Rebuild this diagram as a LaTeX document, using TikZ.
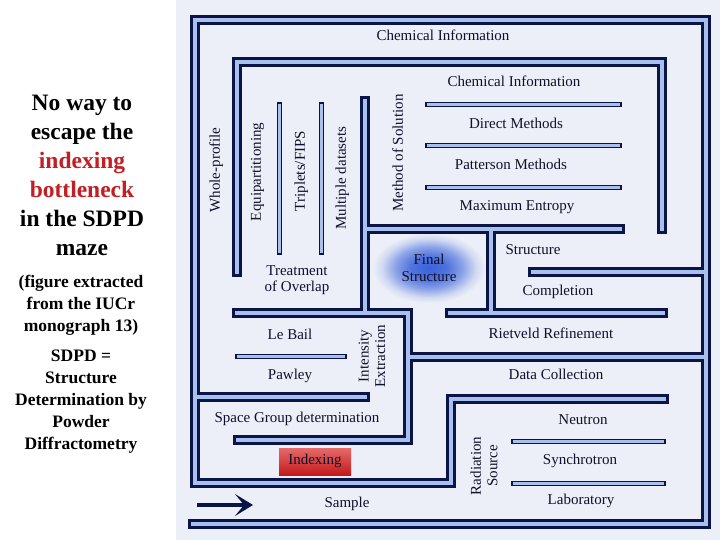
\documentclass[tikz,border=0pt]{standalone}
\usepackage{fontspec}
\setmainfont{Liberation Serif}
\usetikzlibrary{arrows.meta}

\definecolor{wallnavy}{HTML}{0B1545}
\definecolor{wallblue}{HTML}{A9BFEE}
\definecolor{mazebg}{HTML}{ECEFF7}
\definecolor{labelink}{HTML}{10102A}
\definecolor{blobblue}{HTML}{3A62DA}
\definecolor{alarmred}{HTML}{C41E24}
\definecolor{idxtop}{HTML}{E66A6A}
\definecolor{idxbot}{HTML}{C41A1A}

\pgfdeclareradialshading{finalblob}{\pgfpoint{0bp}{0bp}}{color(0bp)=(blobblue); color(8bp)=(blobblue!88!mazebg); color(15bp)=(blobblue!55!mazebg); color(21bp)=(blobblue!15!mazebg); color(25bp)=(mazebg); color(50bp)=(mazebg)}

\begin{document}
\begin{tikzpicture}[x=1pt,y=-1pt,
  ink/.style={font=\fontsize{15}{16.5}\selectfont,text=labelink},
  lbl/.style={ink,text height=1.6ex,text depth=.3ex},
  vlbl/.style={lbl,rotate=90},
  twoline/.style={ink,align=center},
  headline/.style={align=center,font=\fontsize{23.5}{29}\selectfont\bfseries},
  note/.style={align=center,font=\fontsize{17.5}{22}\selectfont\bfseries},
  idxbox/.style={lbl,minimum width=72pt,minimum height=27pt,top color=idxtop,bottom color=idxbot},
  entryarrow/.style={-{Stealth[length=18pt,width=22pt,inset=9pt]},line width=4pt,draw=wallnavy}
]
  \useasboundingbox (0,0) rectangle (720,540);
  \fill[white] (0,0) rectangle (720,540);
  \fill[mazebg] (176,0) rectangle (720,540);

  % glow behind the goal
  \shade[shading=finalblob] (429,268) ellipse [x radius=56, y radius=35];

  % walls: dark pass, then light core
  \foreach \w/\c in {9.5pt/wallnavy,4pt/wallblue}{
    \draw[line width=\w,draw=\c,line cap=rect,line join=miter]
      (664,399) -- (451,399) -- (451,483) -- (195,483) -- (195,20) -- (706,20) -- (706,524) -- (193,524)
      (237,272) -- (237,62) -- (662,62) -- (662,229)
      (365,101) -- (365,313)
      (237,313) -- (408,313) -- (408,440) -- (238,440)
      (365,229) -- (620,229)
      (491,229) -- (491,313)
      (450,313) -- (663,313)
      (533,272) -- (706,272)
      (408,357) -- (706,357)
      (195,397) -- (365,397);
  }
  % thin separators
  \foreach \w/\c in {5.5pt/wallnavy,2.6pt/wallblue}{
    \draw[line width=\w,draw=\c,line cap=rect]
      (279.5,105) -- (279.5,252)
      (321.5,105) -- (321.5,252)
      (428,104.5) -- (619,104.5)
      (428,145.5) -- (619,145.5)
      (428,187.5) -- (619,187.5)
      (238,356.5) -- (344,356.5)
      (514,441.5) -- (663,441.5)
      (514,483.5) -- (663,483.5);
  }

  \coordinate (entry) at (197,505);
  \coordinate (entrytip) at (253,505);
  \draw[entryarrow] (entry) -- (entrytip);

  \node[lbl] (chemouter) at (443,38) {Chemical Information};
  \node[lbl] (cheminner) at (514,84) {Chemical Information};
  \node[lbl] (direct) at (516,126) {Direct Methods};
  \node[lbl] (patterson) at (511,167) {Patterson Methods};
  \node[lbl] (maxent) at (517,208) {Maximum Entropy};
  \node[vlbl] (wholeprof) at (217,170) {Whole-profile};
  \node[vlbl] (equipart) at (258,172) {Equipartitioning};
  \node[vlbl] (triplets) at (302,171) {Triplets/FIPS};
  \node[vlbl] (multiple) at (343,178) {Multiple datasets};
  \node[vlbl] (method) at (400,153) {Method of Solution};
  \node[twoline] (overlap) at (297,280) {Treatment\\of Overlap};
  \node[twoline] (final) at (429,268) {Final\\Structure};
  \node[lbl] (structure) at (533,252) {Structure};
  \node[lbl] (completion) at (558,293) {Completion};
  \node[lbl] (lebail) at (290,337) {Le Bail};
  \node[lbl] (pawley) at (290,377) {Pawley};
  \node[twoline,rotate=90] (intensity) at (372,356) {Intensity\\Extraction};
  \node[lbl] (rietveld) at (551,336) {Rietveld Refinement};
  \node[lbl] (datacoll) at (556,377) {Data Collection};
  \node[lbl] (spacegroup) at (297,420) {Space Group determination};
  \node[idxbox] (indexing) at (315,461.5) {Indexing};
  \node[lbl] (neutron) at (583,422) {Neutron};
  \node[lbl] (synchro) at (580,462) {Synchrotron};
  \node[lbl] (laboratory) at (581,502) {Laboratory};
  \node[twoline,rotate=90] (radiation) at (484,466) {Radiation\\Source};
  \node[lbl] (sample) at (347,505) {Sample};

  \node[headline] (title) at (82,175) {No way to\\escape the\\\textcolor{alarmred}{indexing}\\\textcolor{alarmred}{bottleneck}\\in the SDPD\\maze};
  \node[note] (source) at (81,305) {(figure extracted\\from the IUCr\\monograph 13)};
  \node[note] (acronym) at (81,402) {SDPD =\\Structure\\Determination by\\Powder\\Diffractometry};
\end{tikzpicture}
\end{document}
